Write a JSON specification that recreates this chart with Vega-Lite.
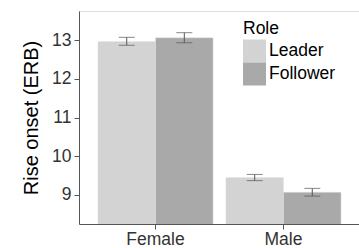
{
  "$schema": "https://vega.github.io/schema/vega-lite/v6.json",
  "width": 281,
  "height": 213,
  "autosize": {"type": "none"},
  "padding": {"left": 79, "top": 11, "right": 0, "bottom": 24},
  "background": "white",
  "config": {
    "font": "Liberation Sans",
    "view": {"stroke": "#dddddd", "strokeWidth": 1}
  },
  "data": {
    "values": [
      {"Sex": "Female", "Role": "Leader", "mean": 12.965, "lo": 12.865, "hi": 13.07},
      {"Sex": "Female", "Role": "Follower", "mean": 13.06, "lo": 12.93, "hi": 13.19},
      {"Sex": "Male", "Role": "Leader", "mean": 9.45, "lo": 9.37, "hi": 9.53},
      {"Sex": "Male", "Role": "Follower", "mean": 9.07, "lo": 8.97, "hi": 9.17}
    ]
  },
  "encoding": {
    "x": {
      "field": "Sex", "type": "nominal",
      "scale": {"paddingInner": 0.1, "paddingOuter": 0.148},
      "axis": {
        "title": null, "labelAngle": 0, "labelFontSize": 17.5, "labelColor": "#333333",
        "domainColor": "#555555", "tickColor": "#555555", "tickSize": 5, "labelPadding": 1, "grid": false
      }
    },
    "xOffset": {"field": "Role", "type": "nominal", "sort": ["Leader", "Follower"], "scale": {"paddingInner": 0, "paddingOuter": 0}}
  },
  "layer": [
    {
      "mark": {"type": "bar", "clip": true, "stroke": "#e4e4e4", "strokeWidth": 0.5},
      "encoding": {
        "y": {
          "field": "mean", "type": "quantitative",
          "scale": {"domain": [8.25, 13.75], "zero": false, "nice": false},
          "axis": {
            "title": "Rise onset (ERB)", "titleFontSize": 20, "titleFontWeight": "normal", "titleColor": "#000000",
            "titlePadding": 10,
            "values": [9, 10, 11, 12, 13], "labelFontSize": 17.5, "labelColor": "#333333",
            "domainColor": "#555555", "tickColor": "#555555", "tickSize": 5, "labelPadding": 3, "grid": false
          }
        },
        "color": {
          "field": "Role", "type": "nominal", "sort": ["Leader", "Follower"],
          "scale": {"domain": ["Leader", "Follower"], "range": ["#d3d3d3", "#a9a9a9"]},
          "legend": {
            "orient": "none", "legendX": 164, "legendY": 9,
            "title": "Role", "titleFontSize": 17.5, "titleFontWeight": "normal", "titleColor": "#000000",
            "titlePadding": 2,
            "labelFontSize": 17.5, "labelColor": "#000000", "labelOffset": 3,
            "symbolType": "square", "symbolSize": 529, "symbolStrokeWidth": 0, "rowPadding": 0
          }
        }
      }
    },
    {
      "mark": {"type": "rule", "color": "#555555", "strokeWidth": 1},
      "encoding": {"y": {"field": "lo", "type": "quantitative"}, "y2": {"field": "hi"}}
    },
    {
      "mark": {"type": "tick", "color": "#555555", "thickness": 1, "size": 16},
      "encoding": {"y": {"field": "lo", "type": "quantitative"}}
    },
    {
      "mark": {"type": "tick", "color": "#555555", "thickness": 1, "size": 16},
      "encoding": {"y": {"field": "hi", "type": "quantitative"}}
    }
  ]
}
